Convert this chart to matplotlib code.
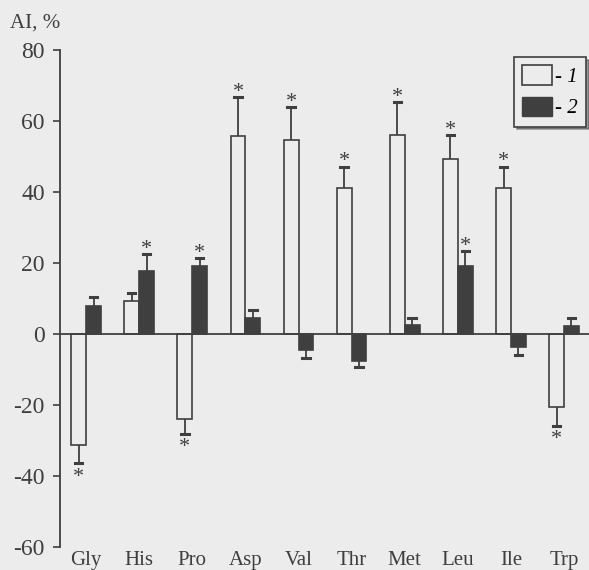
import numpy as np
import matplotlib.pyplot as plt
from matplotlib.patches import Patch

plt.rcParams['font.family'] = ['Liberation Serif', 'DejaVu Serif']
plt.rcParams['axes.unicode_minus'] = False

# dados
aminoacidos = ['Gly', 'His', 'Pro', 'Asp', 'Val', 'Thr', 'Met', 'Leu', 'Ile', 'Trp']
serie1 = [-31.1, 9.4, -24.0, 55.9, 54.8, 41.2, 56.2, 49.4, 41.2, -20.5]
erro1 = [5.3, 2.2, 4.2, 10.8, 9.1, 6.0, 9.3, 6.8, 6.0, 5.3]
serie2 = [7.8, 17.8, 19.3, 4.5, -4.5, -7.6, 2.5, 19.1, -3.6, 2.3]
erro2 = [2.7, 4.7, 2.2, 2.2, 2.3, 1.7, 2.0, 4.2, 2.3, 2.2]
estrela1 = [True, False, True, True, True, True, True, True, True, True]
estrela2 = [False, True, True, False, False, False, False, True, False, False]
y_ticks = [-60, -40, -20, 0, 20, 40, 60, 80]

fundo = '#ececec'
escuro = '#3f3f3f'

fig = plt.figure(figsize=(5.89, 5.70), dpi=100, facecolor=fundo)
ax = fig.add_axes([0.102, 0.04, 0.898, 0.872], facecolor=fundo)

x = np.arange(len(aminoacidos))
w = 0.28

def barras(pos, vals, errs, cor, estrelas):
    ax.bar(pos, vals, w, color=cor, edgecolor=escuro, linewidth=1.2, zorder=3)
    for xi, v, e, s in zip(pos, vals, errs, estrelas):
        sinal = 1 if v >= 0 else -1
        topo = v + sinal * e
        ax.plot([xi, xi], [v, topo], color=escuro, lw=1.3, zorder=2)
        ax.plot([xi - 0.07, xi + 0.07], [topo, topo], color=escuro, lw=2.2, zorder=2)
        if s:
            ax.annotate('*', (xi, topo), xytext=(0, -3.5 if sinal > 0 else -3),
                        textcoords='offset points', ha='center',
                        va='bottom' if sinal > 0 else 'top', fontsize=16, color=escuro)

barras(x - w / 2, serie1, erro1, fundo, estrela1)
barras(x + w / 2, serie2, erro2, escuro, estrela2)

ax.axhline(0, color=escuro, lw=1.3, zorder=4)

ax.set_xlim(-0.49, 9.47)
ax.set_ylim(-60, 80)
ax.set_yticks(y_ticks)
ax.set_xticks(x)
ax.set_xticklabels(aminoacidos)
ax.tick_params(axis='x', length=0, pad=3, labelsize=15, colors=escuro)
ax.tick_params(axis='y', length=5, width=1.2, pad=6, labelsize=17, colors=escuro)
for s in ['top', 'right', 'bottom']:
    ax.spines[s].set_visible(False)
ax.spines['left'].set_color(escuro)
ax.spines['left'].set_linewidth(1.3)

fig.text(0.017, 0.96, 'AI, %', fontsize=15, color=escuro, va='center')

handles = [Patch(facecolor=fundo, edgecolor=escuro, lw=1.2),
           Patch(facecolor=escuro, edgecolor=escuro)]
leg = ax.legend(handles, ['- 1', '- 2'], loc='upper right',
                bbox_to_anchor=(0.994, 0.986), borderaxespad=0,
                prop={'size': 15, 'style': 'italic'}, frameon=True, fancybox=False,
                shadow=True, edgecolor=escuro, facecolor=fundo, framealpha=1,
                handlelength=1.4, handleheight=1.05, handletextpad=0.15,
                borderpad=0.4, labelspacing=0.45)
leg.get_frame().set_linewidth(1.2)

plt.savefig('out.png', dpi=100, facecolor=fundo)
